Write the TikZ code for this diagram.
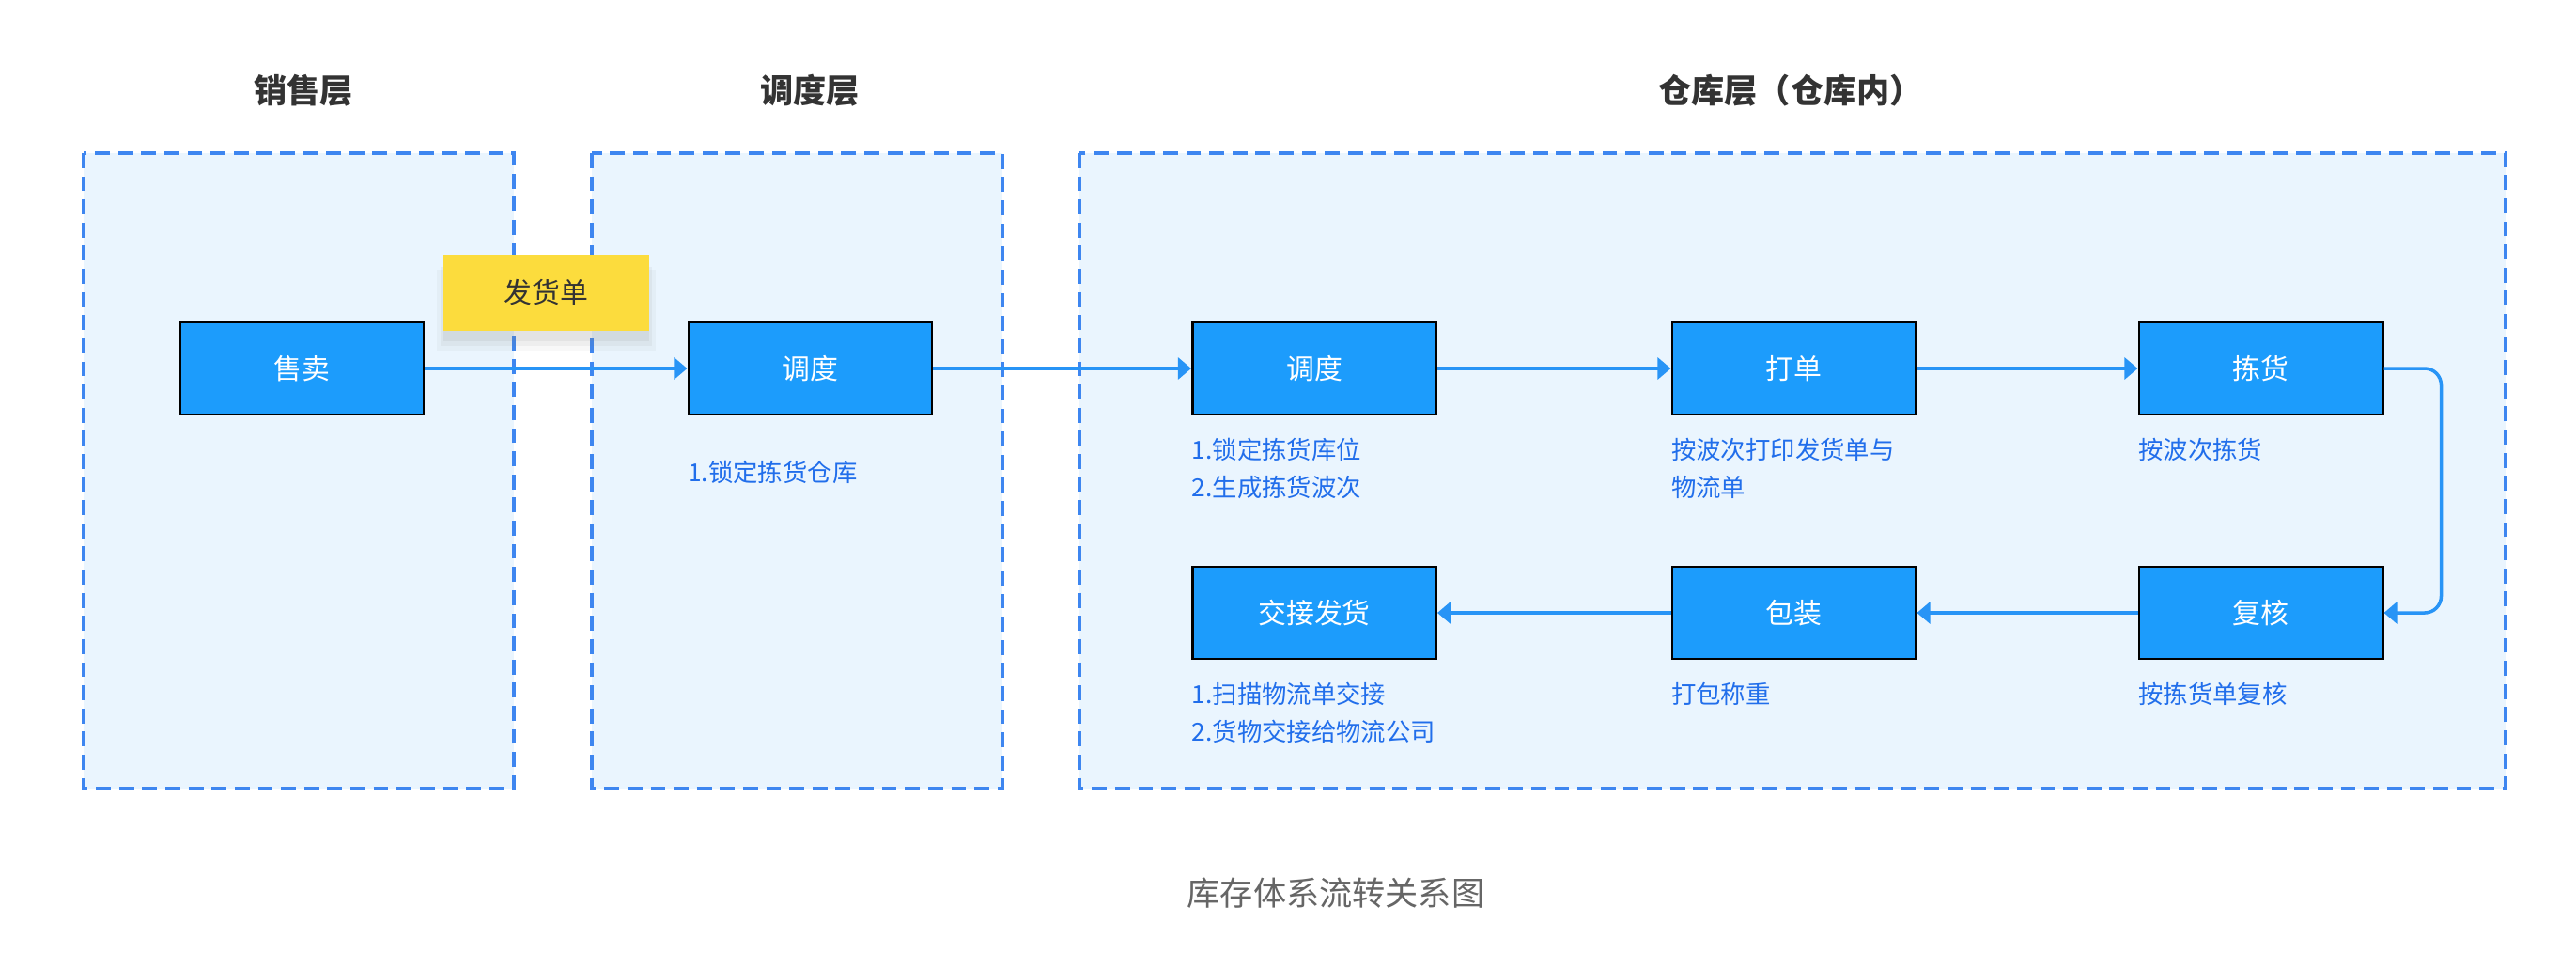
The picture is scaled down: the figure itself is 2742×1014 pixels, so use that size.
\documentclass[tikz,border=0pt]{standalone}
\usepackage{fontspec}
\setmainfont{Noto Sans CJK SC}
\usetikzlibrary{positioning,arrows.meta,shadows}

\definecolor{panelfill}{RGB}{234,245,254}
\definecolor{panelline}{RGB}{62,134,240}
\definecolor{stagefill}{RGB}{28,156,252}
\definecolor{flowline}{RGB}{40,148,246}
\definecolor{desctext}{RGB}{33,110,235}
\definecolor{notefill}{RGB}{252,220,61}
\definecolor{titletext}{RGB}{51,51,51}
\definecolor{captext}{RGB}{102,102,102}

\begin{document}
\begin{tikzpicture}[
  x=0.01cm, y=-0.01cm,
  panel/.style = {draw=panelline, fill=panelfill, line width=0.9pt, dash pattern=on 4.5pt off 2.5pt},
  stage/.style = {draw=black, line width=0.8pt, fill=stagefill, text=white,
                  minimum width=2.59cm, minimum height=0.98cm, font=\fontsize{8.5}{10}\selectfont},
  desc/.style = {text=desctext, align=left, inner sep=0pt, font=\fontsize{7.5}{11.4}\selectfont},
  layer/.style = {text=titletext, font=\bfseries\fontsize{10}{12}\selectfont},
  flow/.style = {draw=flowline, line width=1pt, -{Triangle[length=4pt, width=6.5pt]}},
  note/.style = {fill=notefill, text=titletext, minimum width=2.19cm, minimum height=0.81cm,
                 font=\fontsize{8.5}{10}\selectfont,
                 drop shadow={opacity=0.06, shadow xshift=0pt, shadow yshift=-5pt, shadow scale=1.06},
                 drop shadow={opacity=0.08, shadow xshift=0pt, shadow yshift=-4pt, shadow scale=1.03},
                 drop shadow={opacity=0.10, shadow xshift=0pt, shadow yshift=-3pt}}
]
  \useasboundingbox (0,0) rectangle (2742,1014);

  % layers
  \draw[panel] (89,163) rectangle (547,839);
  \draw[panel] (630,163) rectangle (1067,839);
  \draw[panel] (1149,163) rectangle (2667,839);
  \node[layer] (salesT) at (323,96) {销售层};
  \node[layer] (dispT) at (862,96) {调度层};
  \node[layer] (whT) at (1906,96) {仓库层（仓库内）};

  % stages
  \node[stage] (sale) at (321.5,392) {售卖};
  \node[stage] (disp) at (862.5,392) {调度};
  \node[stage] (wdisp) at (1399,392) {调度};
  \node[stage] (print) at (1909.5,392) {打单};
  \node[stage] (pick) at (2406.5,392) {拣货};
  \node[stage] (check) at (2406.5,652) {复核};
  \node[stage] (pack) at (1909.5,652) {包装};
  \node[stage] (ship) at (1399,652) {交接发货};

  % notes under the stages
  \node[desc, below right=0.47cm and 0cm of disp.south west] (dispD) {1.锁定拣货仓库};
  \node[desc, below right=0.23cm and 0cm of wdisp.south west] (wdispD) {1.锁定拣货库位\\2.生成拣货波次};
  \node[desc, below right=0.23cm and 0cm of print.south west] (printD) {按波次打印发货单与\\物流单};
  \node[desc, below right=0.23cm and 0cm of pick.south west] (pickD) {按波次拣货};
  \node[desc, below right=0.23cm and 0cm of check.south west] (checkD) {按拣货单复核};
  \node[desc, below right=0.23cm and 0cm of pack.south west] (packD) {打包称重};
  \node[desc, below right=0.23cm and 0cm of ship.south west] (shipD) {1.扫描物流单交接\\2.货物交接给物流公司};

  % flow
  \draw[flow] (sale) -- (disp);
  \draw[flow] (disp) -- (wdisp);
  \draw[flow] (wdisp) -- (print);
  \draw[flow] (print) -- (pick);
  \draw[flow, rounded corners=5pt] (pick.east) -- ++(61,0) |- (check.east);
  \draw[flow] (check) -- (pack);
  \draw[flow] (pack) -- (ship);

  \node[note] (bill) at (581.5,311.5) {发货单};

  \node[text=captext, font=\fontsize{10}{12}\selectfont] (cap) at (1422,950) {库存体系流转关系图};
\end{tikzpicture}
\end{document}
